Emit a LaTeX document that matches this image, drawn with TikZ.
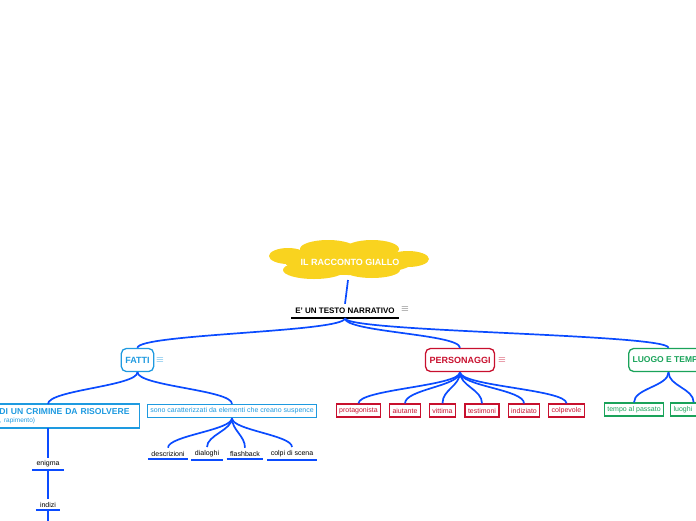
\documentclass[tikz,border=0pt]{standalone}
\usepackage{fontspec}
\setmainfont{Liberation Sans}
\usetikzlibrary{calc}
\definecolor{linkblue}{HTML}{0A4BFF}
\definecolor{fattiblue}{HTML}{1E9AE0}
\definecolor{persred}{HTML}{C8102E}
\definecolor{luogogreen}{HTML}{1AA35A}
\definecolor{cloudyellow}{HTML}{F9D31F}
\tikzset{
  link/.style={draw=linkblue, line width=1.7pt},
  branch/.style={link, out=-90, in=90, distance=#1},
  branch/.default=14pt,
  main/.style={draw, line width=1.3pt, rounded corners=5pt, inner xsep=4pt,
    minimum height=23pt, font=\bfseries\fontsize{9}{10}\selectfont},
  sub/.style={draw, line width=1.3pt, inner xsep=3pt, inner ysep=2pt,
    minimum height=13pt, font=\fontsize{7}{8}\selectfont},
  leaf/.style={inner xsep=3.5pt, inner ysep=3pt, font=\fontsize{7}{8}\selectfont},
  underline/.style={draw=linkblue, line width=2pt},
  icon/.style={inner sep=0pt, font=\fontsize{10}{10}\selectfont}
}

\begin{document}
\begin{tikzpicture}[x=1pt,y=-1pt]
    \useasboundingbox (0,0) rectangle (696,520);
    \clip (0,0) rectangle (696,520);

    % cloud
    \begin{scope}[fill=cloudyellow]
        \fill (288,256) ellipse (19 and 8);
        \fill (328,249) ellipse (28 and 9);
        \fill (372,249) ellipse (27 and 9);
        \fill (408,259) ellipse (21 and 8);
        \fill (314,270) ellipse (31 and 9);
        \fill (372,270) ellipse (28 and 8);
        \fill (349,262) ellipse (64 and 13);
    \end{scope}
    \node[text=white, font=\bfseries\fontsize{9}{10}\selectfont] (giallo) at (350,262) {IL RACCONTO GIALLO};

    % narrativo
    \node[inner xsep=4pt, minimum height=14pt, font=\bfseries\fontsize{8}{9}\selectfont] (narr) at (345,311) {E' UN TESTO NARRATIVO};
    \draw[line width=1.7pt] (narr.south west) -- (narr.south east);
    \node[icon, text=black!70] (narrico) at (405,309) {$\equiv$};
    \draw[link] (348,280) -- (narr.north);

    % main topics
    \node[main, draw=fattiblue, text=fattiblue] (fatti) at (137.5,360) {FATTI};
    \node[icon, text=fattiblue] (fattiico) at (160,360) {$\equiv$};
    \node[main, draw=persred, text=persred] (pers) at (460,360) {PERSONAGGI};
    \node[icon, text=persred] (persico) at (502,360) {$\equiv$};
    \node[main, draw=luogogreen, text=luogogreen, anchor=west,
        font=\bfseries\fontsize{8.5}{9}\selectfont] (luogo) at (628,360) {LUOGO E TEMPO};

    \draw[branch] (narr.south) to (fatti.north);
    \draw[branch] (narr.south) to (pers.north);
    \draw[branch] (narr.south) to (luogo.north);

    % fatti
    \node[draw=fattiblue, line width=1.3pt, anchor=east, text=fattiblue, align=left,
        text width=136pt, inner xsep=4pt, inner ysep=2pt, minimum height=24pt,
        font=\bfseries\fontsize{8.6}{9}\selectfont] (crimine) at (140,416)
        {DI UN CRIMINE DA RISOLVERE\\[-1pt]{\mdseries\fontsize{6.5}{7}\selectfont , rapimento)}};
    \node[sub, draw=fattiblue, text=fattiblue] (susp) at (232,411) {sono caratterizzati da elementi che creano suspence};
    \draw[branch] (fatti.south) to (48,404);
    \draw[branch] (fatti.south) to (susp.north);

    \node[leaf] (descr) at (168,453.5) {descrizioni};
    \node[leaf] (dial) at (207,453.5) {dialoghi};
    \node[leaf] (flash) at (245,453.5) {flashback};
    \node[leaf] (colpi) at (292,453.5) {colpi di scena};
    \foreach \n in {descr,dial,flash,colpi} {
        \draw[underline] (\n.south west) -- (\n.south east);
        \draw[branch=12pt] (susp.south) to (\n.north);
    }

    \node[leaf, inner xsep=4pt] (enigma) at (48,464) {enigma};
    \node[leaf, inner xsep=4pt] (indizi) at (48,504.5) {indizi};
    \coordinate (giu) at (48,530);
    \foreach \n in {enigma,indizi}
        \draw[underline] (\n.south west) -- (\n.south east);
    \draw[link] (48,428) -- (enigma.north);
    \draw[link] (enigma.south) -- (indizi.north);
    \draw[link] (indizi.south) -- (giu);

    % personaggi
    \node[sub, draw=persred, text=persred] (prot) at (358.5,410.5) {protagonista};
    \node[sub, draw=persred, text=persred] (aiut) at (405,410.5) {aiutante};
    \node[sub, draw=persred, text=persred] (vitt) at (442.5,410.5) {vittima};
    \node[sub, draw=persred, text=persred] (test) at (482,410.5) {testimoni};
    \node[sub, draw=persred, text=persred] (indz) at (524,410.5) {indiziato};
    \node[sub, draw=persred, text=persred] (colp) at (566.5,410.5) {colpevole};
    \foreach \n in {prot,aiut,vitt,test,indz,colp}
        \draw[branch] (pers.south) to (\n.north);

    % luogo e tempo
    \node[sub, draw=luogogreen, text=luogogreen] (tempo) at (634,409.5) {tempo al passato};
    \node[sub, draw=luogogreen, text=luogogreen, anchor=west, text width=40pt,
        align=left] (luoghi) at (670,409.5) {luoghi};
    \draw[branch] (luogo.south) to (tempo.north);
    \draw[branch] (luogo.south) to (luoghi.north);
\end{tikzpicture}
\end{document}
